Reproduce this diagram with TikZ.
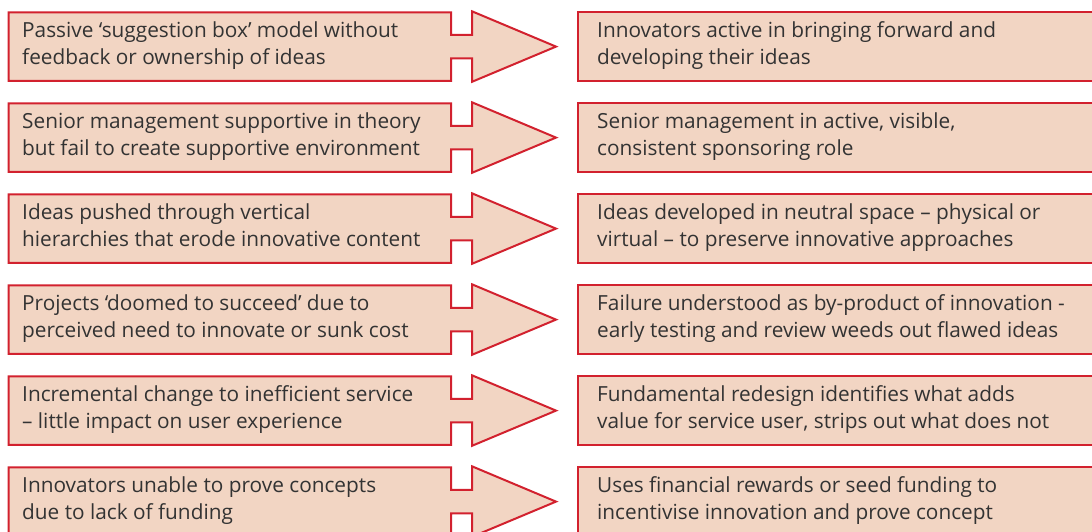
\documentclass[tikz,border=0pt]{standalone}
\usepackage{fontspec}
\setmainfont{Open Sans}
\definecolor{boxfill}{HTML}{F2D5C3}
\definecolor{boxline}{HTML}{D2212E}
\definecolor{ink}{HTML}{333333}
\newcommand{\twolines}[2]{\vtop{\baselineskip=27.3pt\hbox{#1}\hbox{#2}}}
\begin{document}
\begin{tikzpicture}[x=1pt,y=-1pt,
  panel/.style={draw=boxline, fill=boxfill, line width=2pt, line join=miter},
  label/.style={anchor=base west, inner sep=0pt, text=ink, font=\fontsize{20.8}{27.3}\selectfont}]
\useasboundingbox (0,0) rectangle (1092,531);
\clip (0,0) rectangle (1092,531);
% one row: left panel with block arrow, right panel, and their texts
\foreach \i/\la/\lb/\ra/\rb in {
  0/{Passive ‘suggestion box’ model without}/{feedback or ownership of ideas}/{Innovators active in bringing forward and}/{developing their ideas},
  1/{Senior management supportive in theory}/{but fail to create supportive environment}/{Senior management in active, visible,}/{consistent sponsoring role},
  2/{Ideas pushed through vertical}/{hierarchies that erode innovative content}/{Ideas developed in neutral space – physical or}/{virtual – to preserve innovative approaches},
  3/{Projects ‘doomed to succeed’ due to}/{perceived need to innovate or sunk cost}/{Failure understood as by-product of innovation -}/{early testing and review weeds out flawed ideas},
  4/{Incremental change to inefficient service}/{– little impact on user experience}/{Fundamental redesign identifies what adds}/{value for service user, strips out what does not},
  5/{Innovators unable to prove concepts}/{due to lack of funding}/{Uses financial rewards or seed funding to}/{incentivise innovation and prove concept}} {
  \pgfmathsetmacro{\t}{12.3+91.0*\i}
  \draw[panel] (8.5,\t) -- (451,\t) -- (451,\t+22.5) -- (472,\t+22.5) -- (472,\t-1)
    -- (556,\t+34.3) -- (472,\t+69.5) -- (472,\t+46) -- (451,\t+46) -- (451,\t+68.5)
    -- (8.5,\t+68.5) -- cycle;
  \draw[panel] (578,\t) rectangle (1100,\t+68.5);
  \node[label] (L\i) at (22,\t+24.7) {\twolines{\la}{\lb}};
  \node[label] (R\i) at (597,\t+24.7) {\twolines{\ra}{\rb}};
}
\end{tikzpicture}
\end{document}
